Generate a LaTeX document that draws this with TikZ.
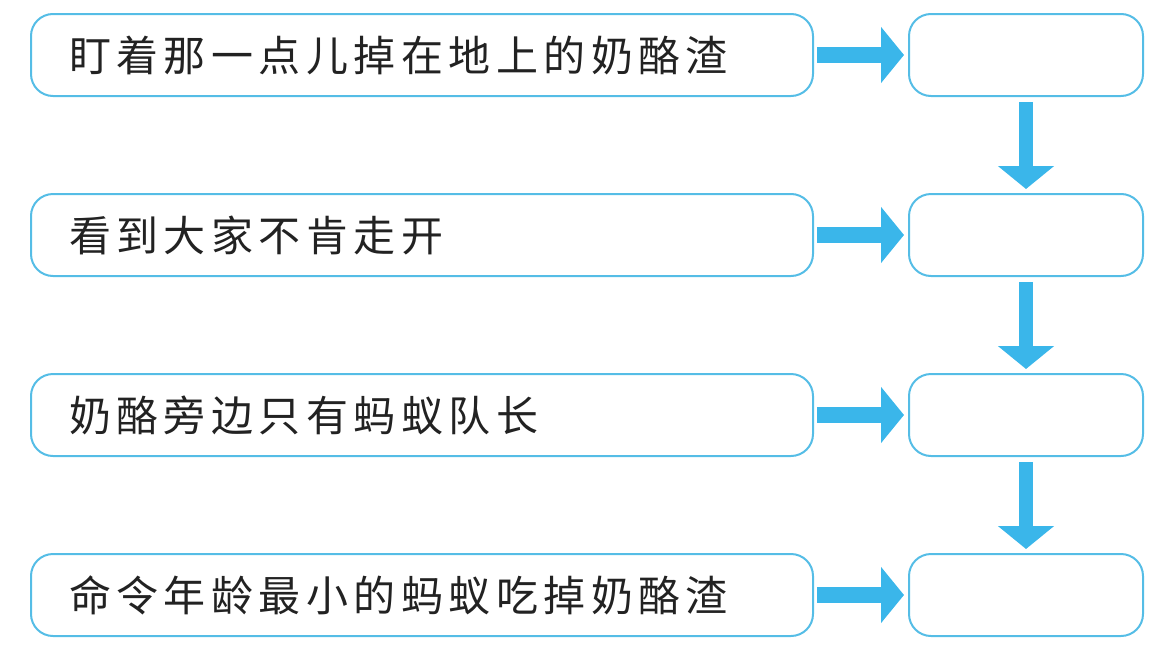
\documentclass[tikz,border=0pt]{standalone}
\usepackage{fontspec}
\newfontfamily\cjk[LetterSpace=13]{Noto Sans CJK SC}
\usetikzlibrary{arrows.meta,positioning}
\definecolor{stepLine}{HTML}{55BDE6}
\definecolor{stepArrow}{HTML}{3AB6EA}
\definecolor{stepText}{HTML}{222222}
\tikzset{
  eventbox/.style={
    draw=stepLine, line width=2pt, rounded corners=22pt,
    minimum height=82pt, text width=706pt, inner xsep=38pt,
    align=left, text=stepText, font=\cjk\fontsize{42}{48}\selectfont
  },
  blankbox/.style={
    draw=stepLine, line width=2pt, rounded corners=22pt,
    minimum height=82pt, minimum width=234pt
  },
  fatarrow/.style={line width=16pt, draw=stepArrow, -{Triangle[length=23pt, width=55pt]}},
  downarrow/.style={line width=14pt, draw=stepArrow, -{Triangle[length=23pt, width=55pt]}}
}

\begin{document}
\begin{tikzpicture}[x=1pt, y=1pt, node distance=96pt]
  \useasboundingbox (0,0) rectangle (1172,-648);
  % left column: what happened
  \node[eventbox, anchor=west] (ev1) at (30,-55) {盯着那一点儿掉在地上的奶酪渣};
  \node[eventbox, below=of ev1] (ev2) {看到大家不肯走开};
  \node[eventbox, below=of ev2] (ev3) {奶酪旁边只有蚂蚁队长};
  \node[eventbox, below=of ev3] (ev4) {命令年龄最小的蚂蚁吃掉奶酪渣};
  % right column: blanks to fill in
  \node[blankbox, right=94pt of ev1] (ans1) {};
  \node[blankbox, right=94pt of ev2] (ans2) {};
  \node[blankbox, right=94pt of ev3] (ans3) {};
  \node[blankbox, right=94pt of ev4] (ans4) {};
  \foreach \i in {1,...,4}
    \draw[fatarrow, shorten <=3pt, shorten >=4pt] (ev\i.east) -- (ans\i.west);
  \foreach \i/\j in {1/2,2/3,3/4}
    \draw[downarrow, shorten <=5pt, shorten >=4pt] (ans\i.south) -- (ans\j.north);
\end{tikzpicture}
\end{document}
